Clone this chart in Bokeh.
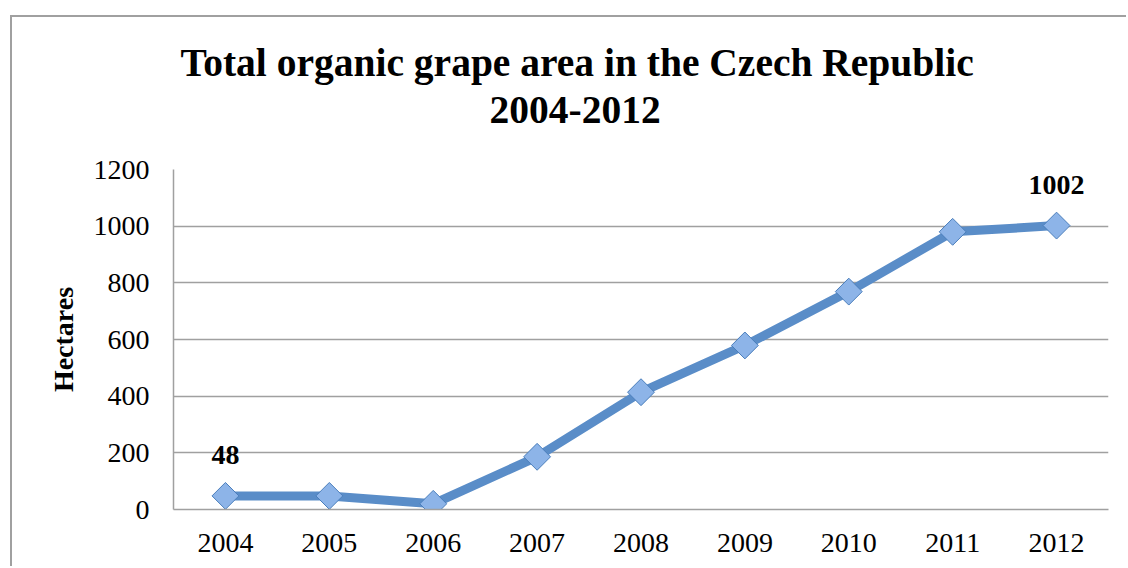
import numpy as np
from bokeh.plotting import figure
from bokeh.models import Range1d, FixedTicker, Title, ColumnDataSource
from bokeh.core.properties import value
from bokeh.embed import file_html
from bokeh.resources import INLINE

years = [2004, 2005, 2006, 2007, 2008, 2009, 2010, 2011, 2012]
hectares = [48, 48, 20, 186, 414, 579, 769, 980, 1002]
y_ticks = [0, 200, 400, 600, 800, 1000, 1200]
labelled_years = [2004, 2012]
labelled_values = [48, 1002]
title_lines = ["Total organic grape area in the Czech Republic", "2004-2012"]
y_label = "Hectares"

SERIF = "Liberation Serif"

p = figure(width=1116, height=551, output_backend="svg", toolbar_location=None,
           title=None,
           x_range=Range1d(years[0] - 0.5, years[-1] + 0.5),
           y_range=Range1d(y_ticks[0], y_ticks[-1]),
           min_border_left=161, min_border_right=20,
           min_border_top=152, min_border_bottom=59)
p.margin = (15, 0, 0, 10)
p.styles = {"border-left": "2px solid #a0a0a0", "border-top": "2px solid #a0a0a0"}
p.outline_line_color = None
p.background_fill_color = "white"
p.border_fill_color = "white"

p.xgrid.grid_line_color = None
p.ygrid.grid_line_color = "#a0a0a0"
p.ygrid.grid_line_width = 1.5
p.yaxis.ticker = FixedTicker(ticks=y_ticks)
p.xaxis.ticker = FixedTicker(ticks=years)

for ax in (p.xaxis, p.yaxis):
    ax.axis_line_color = "#a0a0a0"
    ax.axis_line_width = 1.5
    ax.major_tick_line_color = None
    ax.minor_tick_line_color = None
    ax.major_tick_out = 0
    ax.major_tick_in = 0
    ax.major_label_text_font = SERIF
    ax.major_label_text_font_size = "28px"
    ax.major_label_text_color = "black"

p.yaxis.major_label_standoff = 24
p.xaxis.major_label_standoff = 24
p.yaxis.axis_label = y_label
p.yaxis.axis_label_text_font = SERIF
p.yaxis.axis_label_text_font_style = "bold"
p.yaxis.axis_label_text_font_size = "28px"
p.yaxis.axis_label_text_color = "black"
p.yaxis.axis_label_standoff = 12

src = ColumnDataSource(dict(x=years, y=hectares))
p.line("x", "y", source=src, line_color="#5a8dc8", line_width=9)
p.scatter("x", "y", source=src, marker="square", angle=np.pi / 4, size=19,
          fill_color="#8db4e8", line_color="#4a7ebb", line_width=1)

lab = ColumnDataSource(dict(x=labelled_years, y=labelled_values,
                            t=[str(v) for v in labelled_values]))
p.text("x", "y", text="t", source=lab, text_font=value(SERIF), text_font_style="bold",
       text_font_size="28px", text_align="center", text_baseline="alphabetic",
       y_offset=-41, text_color="black")

# spacer between the frame and the two title lines
p.add_layout(Title(text=" ", text_font_size="27px", text_line_height=1.0), "above")
p.add_layout(Title(text=title_lines[1], align="left", offset=316, text_line_height=0.85,
                   text_font=SERIF, text_font_style="bold", text_font_size="39.5px",
                   text_color="black"), "above")
p.add_layout(Title(text=title_lines[0], align="left", offset=7, text_line_height=1.0,
                   text_font=SERIF, text_font_style="bold", text_font_size="39.5px",
                   text_color="black"), "above")

open("out.html", "w").write(file_html(p, INLINE))
